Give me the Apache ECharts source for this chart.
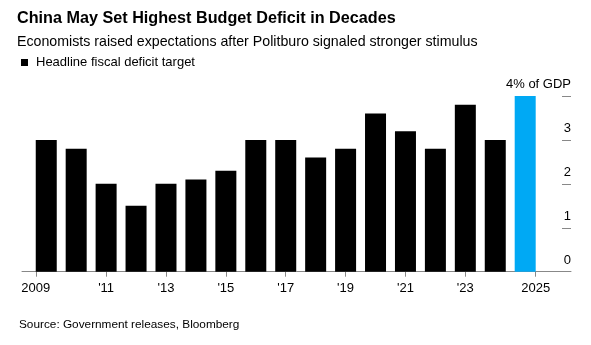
<!DOCTYPE html>
<html>
<head>
<meta charset="utf-8">
<script src="https://cdn.jsdelivr.net/npm/echarts@6/dist/echarts.min.js"></script>
<style>
html,body{margin:0;padding:0;background:#fff;}
#chart{width:591px;height:345px;}
</style>
</head>
<body>
<div id="chart"></div>
<script>
const years = [2009, 2010, 2011, 2012, 2013, 2014, 2015, 2016, 2017, 2018, 2019, 2020, 2021, 2022, 2023, 2024, 2025];
const deficit = [3.0, 2.8, 2.0, 1.5, 2.0, 2.1, 2.3, 3.0, 3.0, 2.6, 2.8, 3.6, 3.2, 2.8, 3.8, 3.0, 4.0];
const xTickValues = [2008.65, 2011, 2013, 2015, 2017, 2019, 2021, 2023, 2025.35];
const yTicks = [0, 1, 2, 3, 4];
const seriesName = 'Headline fiscal deficit target';
const highlightYear = 2025;

const FONT = '"Liberation Sans", Arial, Helvetica, sans-serif';
const chart = echarts.init(document.getElementById('chart'), null, {renderer: 'canvas'});

const data = years.map((y, i) => ({
  value: [y, deficit[i]],
  itemStyle: {color: y === highlightYear ? '#00a9f4' : '#000000'}
}));

function xLabel(v) {
  if (v < 2009) return '2009';
  if (v > 2025) return '2025';
  return "'" + String(Math.round(v)).slice(2);
}

chart.setOption({
  animation: false,
  backgroundColor: '#ffffff',
  title: [
    {text: 'China May Set Highest Budget Deficit in Decades', left: 17, top: 11, padding: 0,
     textStyle: {fontFamily: FONT, fontSize: 16.2, fontWeight: 'bold', color: '#000'}},
    {text: 'Economists raised expectations after Politburo signaled stronger stimulus', left: 17, top: 35, padding: 0,
     textStyle: {fontFamily: FONT, fontSize: 14.2, fontWeight: 'normal', color: '#000'}},
    {text: 'Source: Government releases, Bloomberg', left: 19, top: 319, padding: 0,
     textStyle: {fontFamily: FONT, fontSize: 11.8, fontWeight: 'normal', color: '#000'}}
  ],
  legend: {
    left: 21, top: 56, padding: 0, icon: 'rect', itemWidth: 7, itemHeight: 7,
    data: [{name: seriesName, itemStyle: {color: '#000'}}],
    textStyle: {fontFamily: FONT, fontSize: 13, color: '#000', padding: [0, 0, 0, 3]}
  },
  grid: {left: 22, right: 20, top: 96, bottom: 73.3, containLabel: false},
  xAxis: {
    type: 'value', min: 2008.19, max: 2026.53,
    splitLine: {show: false},
    axisLine: {show: true, lineStyle: {color: '#888', width: 1}},
    axisTick: {show: true, length: 5, customValues: xTickValues, lineStyle: {color: '#888'}},
    axisLabel: {customValues: xTickValues, formatter: xLabel, margin: 10,
      fontFamily: FONT, fontSize: 13, color: '#000'}
  },
  yAxis: {
    type: 'value', position: 'right', min: 0, max: 4, interval: 1,
    splitLine: {show: false},
    axisLine: {show: false},
    axisTick: {show: true, inside: true, length: 9, lineStyle: {color: '#888'}},
    axisLabel: {inside: true, margin: 0, align: 'right', verticalAlign: 'bottom',
      padding: [0, 0, 5, 0],
      formatter: v => v === 4 ? '4% of GDP' : String(v),
      fontFamily: FONT, fontSize: 13, color: '#000'}
  },
  series: [{
    name: seriesName, type: 'bar', barWidth: 21, data: data,
    itemStyle: {color: '#000'}
  }]
});
</script>
</body>
</html>
